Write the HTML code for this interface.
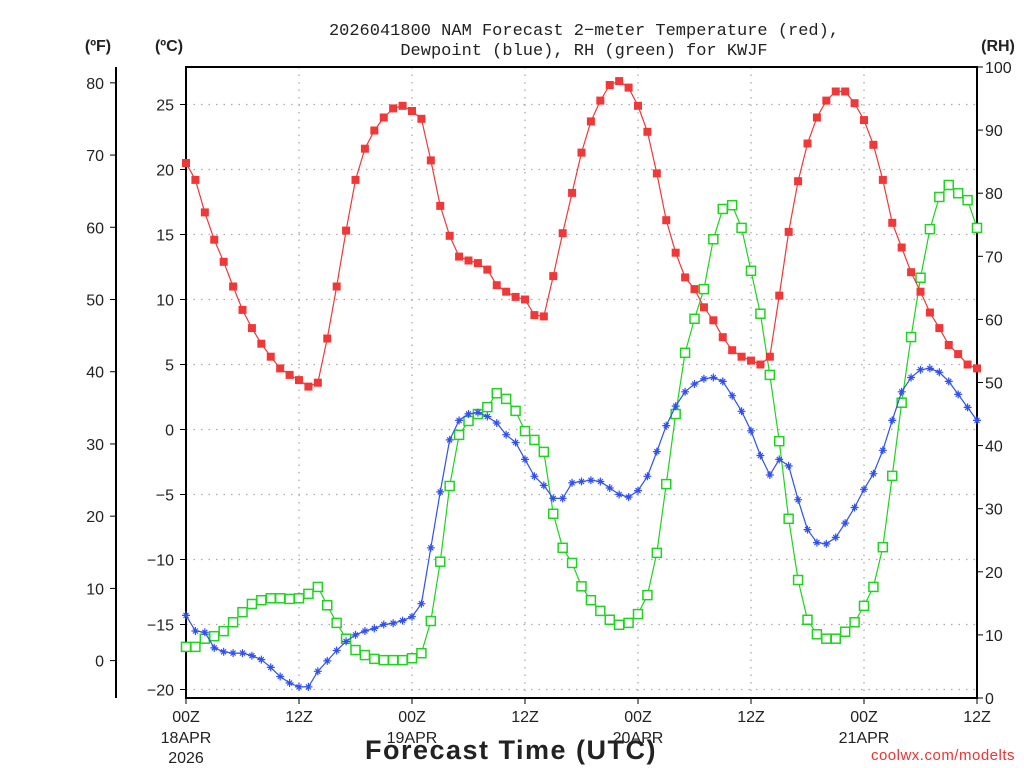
<!DOCTYPE html>
<html><head><meta charset="utf-8"><style>
body{margin:0;background:#fff}
svg{display:block;font-family:"Liberation Sans",sans-serif}
</style></head><body>
<svg id="c" width="1024" height="768"></svg>
<script>
const hours=[];for(let i=0;i<=84;i++)hours.push(i);
const tempC=[20.5,19.2,16.7,14.6,12.9,11.0,9.2,7.8,6.6,5.6,4.7,4.2,3.8,3.3,3.6,7.0,11.0,15.3,19.2,21.6,23.0,24.0,24.7,24.9,24.5,23.9,20.7,17.2,14.9,13.3,13.0,12.8,12.3,11.1,10.6,10.2,10.0,8.8,8.7,11.8,15.1,18.2,21.3,23.7,25.3,26.5,26.8,26.3,24.9,22.9,19.7,16.1,13.6,11.7,10.8,9.4,8.4,7.1,6.1,5.6,5.3,5.0,5.6,10.3,15.2,19.1,22.0,24.0,25.3,26.0,26.0,25.1,23.8,21.9,19.2,15.9,14.0,12.1,10.6,9.0,7.8,6.5,5.8,5.0,4.7];
const dewC=[-14.3,-15.5,-15.6,-16.8,-17.1,-17.2,-17.2,-17.4,-17.7,-18.3,-19.0,-19.5,-19.8,-19.8,-18.6,-17.8,-17.0,-16.3,-15.8,-15.5,-15.3,-15.0,-14.9,-14.7,-14.4,-13.4,-9.1,-4.8,-0.8,0.7,1.2,1.3,1.0,0.5,-0.4,-1.0,-2.3,-3.6,-4.3,-5.3,-5.3,-4.1,-4.0,-3.9,-4.0,-4.5,-5.0,-5.2,-4.7,-3.6,-1.7,0.3,1.8,2.9,3.5,3.9,4.0,3.7,2.6,1.4,-0.1,-2.0,-3.5,-2.3,-2.8,-5.4,-7.7,-8.7,-8.8,-8.3,-7.2,-6.0,-4.6,-3.4,-1.6,0.7,2.9,4.0,4.6,4.7,4.4,3.7,2.7,1.7,0.7];
const rh=[8.1,8.1,9.4,9.8,10.6,12.0,13.6,14.9,15.5,15.8,15.8,15.7,15.8,16.5,17.6,14.7,11.9,9.4,7.6,6.8,6.2,6.0,6.0,6.0,6.3,7.1,12.2,21.6,33.6,41.7,43.9,45.0,46.1,48.3,47.4,45.5,42.3,40.9,39.0,29.2,23.8,21.4,17.7,15.5,13.8,12.4,11.6,11.9,13.3,16.3,23.0,33.9,45.0,54.7,60.1,64.8,72.7,77.5,78.1,74.5,67.7,60.9,51.2,40.7,28.4,18.7,12.4,10.1,9.4,9.4,10.5,12.0,14.6,17.6,23.9,35.2,46.8,57.2,66.6,74.3,79.4,81.3,80.0,78.9,74.5];
const cTicks=[-20,-15,-10,-5,0,5,10,15,20,25];
const fTicks=[0,10,20,30,40,50,60,70,80];
const rhTicks=[0,10,20,30,40,50,60,70,80,90,100];
const xTickHours=[0,12,24,36,48,60,72,84];
const xTickLabels=["00Z","12Z","00Z","12Z","00Z","12Z","00Z","12Z"];
const dateLabels=[["18APR","2026"],[],["19APR"],[],["20APR"],[],["21APR"],[]];

const L=186,R=977,T=67,B=698;
const X=h=>L+h*(R-L)/84;
const YC=c=>169.5-(c-20)*13;
const YF=f=>YC((f-32)/1.8);
const YR=r=>B-r*(B-T)/100;
const svg=document.getElementById('c');const NS='http://www.w3.org/2000/svg';
function el(tag,attrs,parent,text){const e=document.createElementNS(NS,tag);for(const k in attrs)e.setAttribute(k,attrs[k]);if(text!==undefined)e.textContent=text;(parent||svg).appendChild(e);return e;}
function txt(x,y,s,anchor,size,name,extra){const t=el('text',Object.assign({x:x,y:y,'text-anchor':anchor,'font-size':size,fill:'#222'},extra||{}),svg,s);

return t;}

const grid=el('g',{stroke:'#aaa','stroke-width':1.3,'stroke-dasharray':'1.5 6'});


cTicks.forEach(c=>el('line',{x1:L,x2:R,y1:YC(c),y2:YC(c)},grid));
xTickHours.forEach(h=>{if(h>0&&h<84)el('line',{x1:X(h),x2:X(h),y1:T,y2:B},grid);});

const frame=el('rect',{x:L,y:T,width:R-L,height:B-T,fill:'none',stroke:'#000','stroke-width':2});


const fAxis=el('line',{x1:116,x2:116,y1:T,y2:B,stroke:'#000','stroke-width':2});


cTicks.forEach(c=>{el('line',{x1:180,x2:L,y1:YC(c),y2:YC(c),stroke:'#000'});txt(174,YC(c)+6,String(c).replace('-','−'),'end',16,'celsius-tick-label');});
fTicks.forEach(f=>{el('line',{x1:110,x2:116,y1:YF(f),y2:YF(f),stroke:'#000'});txt(104,YF(f)+6,String(f),'end',16,'fahrenheit-tick-label');});
rhTicks.forEach(r=>{el('line',{x1:R,x2:R+6,y1:YR(r),y2:YR(r),stroke:'#000'});txt(985,YR(r)+6,String(r),'start',16,'rh-tick-label');});
xTickHours.forEach((h,i)=>{el('line',{x1:X(h),x2:X(h),y1:B,y2:B+6,stroke:'#000'});
 txt(X(h),722,xTickLabels[i],'middle',16,'x-tick-label');
 dateLabels[i].forEach((d,j)=>txt(X(h),743+j*20,d,'middle',16,'x-date-label'));});

txt(584,35,'2026041800 NAM Forecast 2−meter Temperature (red),','middle',17,'chart-title-line1',{'font-family':'Liberation Mono, monospace'});
txt(584,55,'Dewpoint (blue), RH (green) for KWJF','middle',17,'chart-title-line2',{'font-family':'Liberation Mono, monospace'});
txt(98,51,'(ºF)','middle',16,'fahrenheit-axis-title',{'font-weight':'bold'});
txt(169,51,'(ºC)','middle',16,'celsius-axis-title',{'font-weight':'bold'});
txt(998,51,'(RH)','middle',16,'rh-axis-title',{'font-weight':'bold'});
txt(511,759,'Forecast Time (UTC)','middle',27,'x-axis-title',{'letter-spacing':'1.5','font-weight':'600'});
txt(1015,760,'coolwx.com/modelts','end',15,'credit-text',{fill:'#e33','letter-spacing':'0.5'});

function series(vals,yf,color,name,marker){
 const g=el('g',{});
 
 
 el('polyline',{points:vals.map((v,i)=>X(hours[i])+','+yf(v)).join(' '),fill:'none',stroke:color,'stroke-width':1.2},g);
 vals.forEach((v,i)=>{const x=X(hours[i]),y=yf(v);let m;
  if(marker==='fill')m=el('rect',{x:x-4,y:y-4,width:8,height:8,fill:color},g);
  else if(marker==='open')m=el('rect',{x:x-4.5,y:y-4.5,width:9,height:9,fill:'#fff',stroke:color,'stroke-width':1.5},g);
  else m=el('path',{d:`M${x-4},${y}H${x+4}M${x},${y-4}V${y+4}M${x-2.5},${y-2.5}L${x+2.5},${y+2.5}M${x-2.5},${y+2.5}L${x+2.5},${y-2.5}`,stroke:color,'stroke-width':1.2},g);
  
  });
}
series(rh,YR,'#1ed41e','rh-series','open');
series(dewC,YC,'#3050f0','dewpoint-series','star');
series(tempC,YC,'#f03838','temperature-series','fill');
</script>
</body></html>
